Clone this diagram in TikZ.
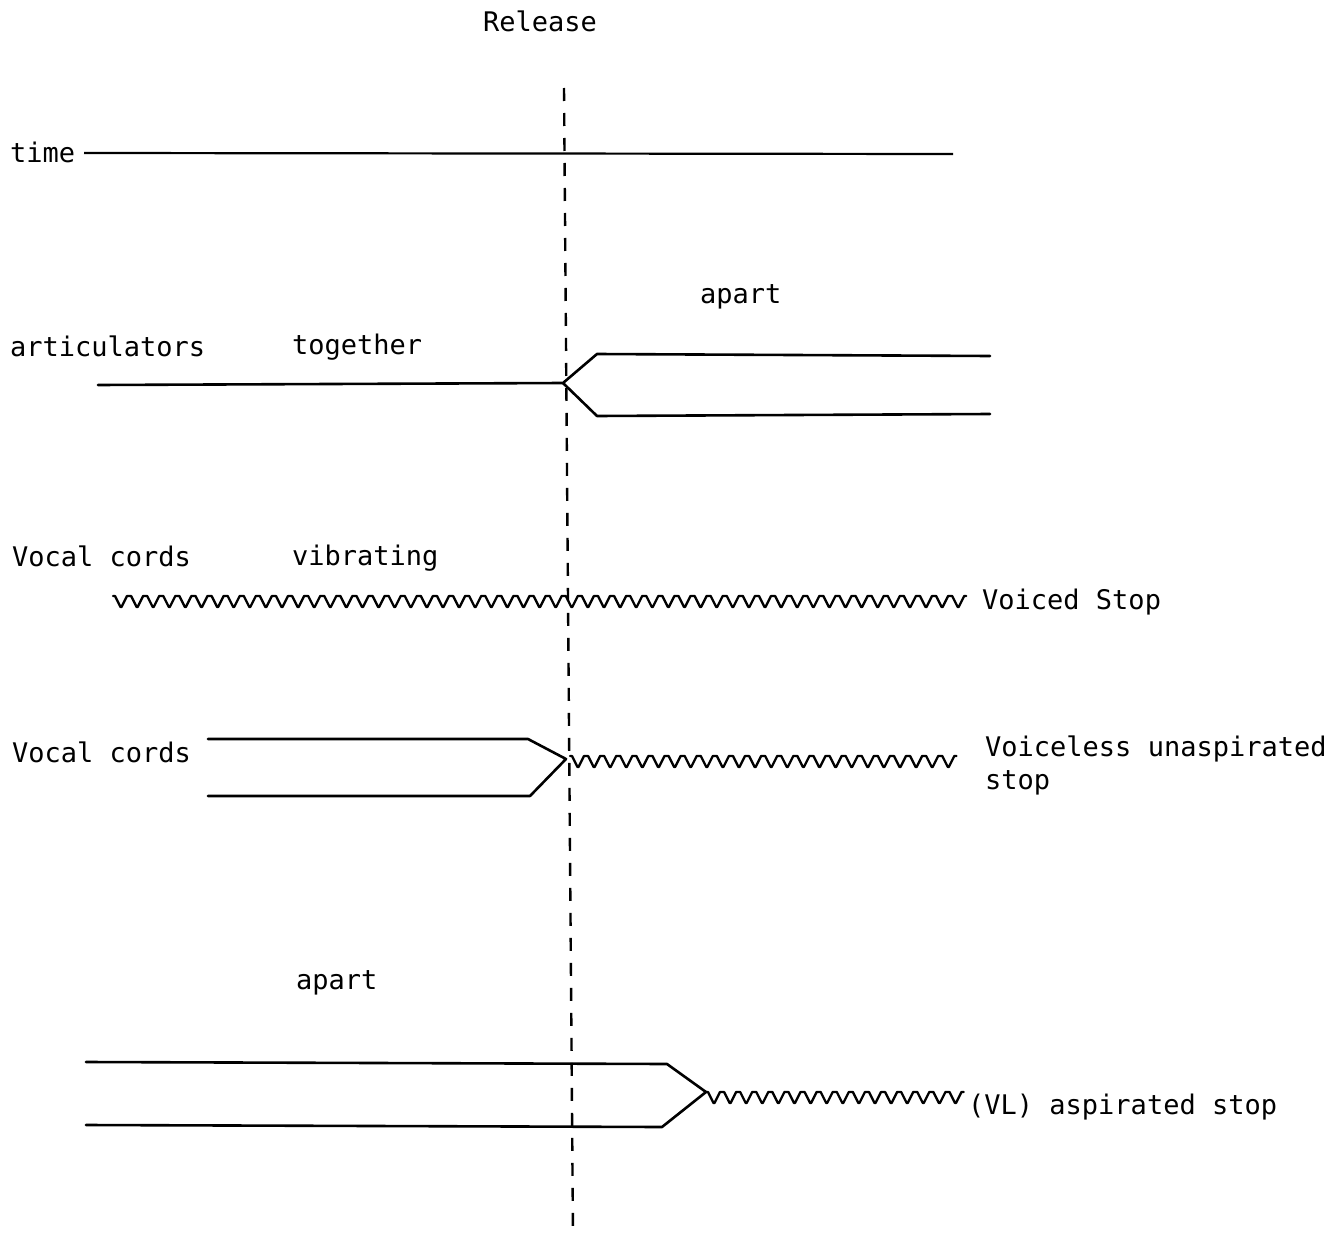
\documentclass[tikz,border=0pt]{standalone}
\usepackage{fontspec}
\setmonofont{DejaVu Sans Mono}
\tikzset{
  lbl/.style={font=\ttfamily\fontsize{27}{32}\selectfont, inner sep=0pt, anchor=mid west, yshift=-7pt},
  trace/.style={line width=2.6pt, line join=round, line cap=round},
  rel/.style={line width=2.4pt, dash pattern=on 13pt off 12pt},
}
\newcommand{\vvv}[3]{% x, y, count
  \draw[trace, line width=2.3pt] (#1,#2) \foreach \i in {1,...,#3} { -- ++(2,0) -- ++(5.5,11) -- ++(1,0) -- ++(5.5,-11) -- ++(2.1,0)};}
\begin{document}
\begin{tikzpicture}[x=1pt,y=-1pt]
\useasboundingbox (0,0) rectangle (1339,1236);
% release line
\node[lbl, anchor=mid] (release) at (540,22) {Release};
\coordinate (rtop) at (564,88);
\coordinate (rbot) at (573,1236);
\draw[rel] (rtop) -- (rbot);
% time
\node[lbl] (time) at (10,153) {time};
\coordinate (t1) at (84,153);
\coordinate (t2) at (953,154);
\draw[line width=2.2pt] (t1) -- (t2);
% articulators
\node[lbl] (artic) at (10,347) {articulators};
\node[lbl] (together) at (292,345) {together};
\node[lbl] (apart1) at (700,294) {apart};
\coordinate (a0) at (98,385);
\coordinate (af) at (563,383);
\coordinate (au1) at (597,354);
\coordinate (au2) at (990,356);
\coordinate (al1) at (597,416);
\coordinate (al2) at (990,414);
\draw[trace] (a0) -- (af) -- (au1) -- (au2);
\draw[trace] (af) -- (al1) -- (al2);
% voiced
\node[lbl] (vc1) at (12,557) {Vocal cords};
\node[lbl] (vib) at (292,556) {vibrating};
\vvv{113}{596}{53}
\node[lbl] (voiced) at (982,600) {Voiced Stop};
% voiceless unaspirated
\node[lbl] (vc2) at (12,753) {Vocal cords};
\coordinate (u1) at (208,739);
\coordinate (u2) at (528,739);
\coordinate (uf) at (566,759);
\coordinate (l1) at (208,796);
\coordinate (l2) at (530,796);
\draw[trace] (u1) -- (u2) -- (uf) -- (l2) -- (l1);
\vvv{570}{756}{24}
\node[lbl] (vu) at (985,747) {Voiceless unaspirated};
\node[lbl] (vu2) at (985,780) {stop};
% aspirated
\node[lbl] (apart2) at (296,980) {apart};
\coordinate (p1) at (86,1062);
\coordinate (p2) at (667,1064);
\coordinate (pf) at (706,1092);
\coordinate (q1) at (86,1125);
\coordinate (q2) at (662,1127);
\draw[trace] (p1) -- (p2) -- (pf) -- (q2) -- (q1);
\vvv{706}{1092}{16}
\node[lbl] (asp) at (968,1105) {(VL) aspirated stop};
\end{tikzpicture}
\end{document}
